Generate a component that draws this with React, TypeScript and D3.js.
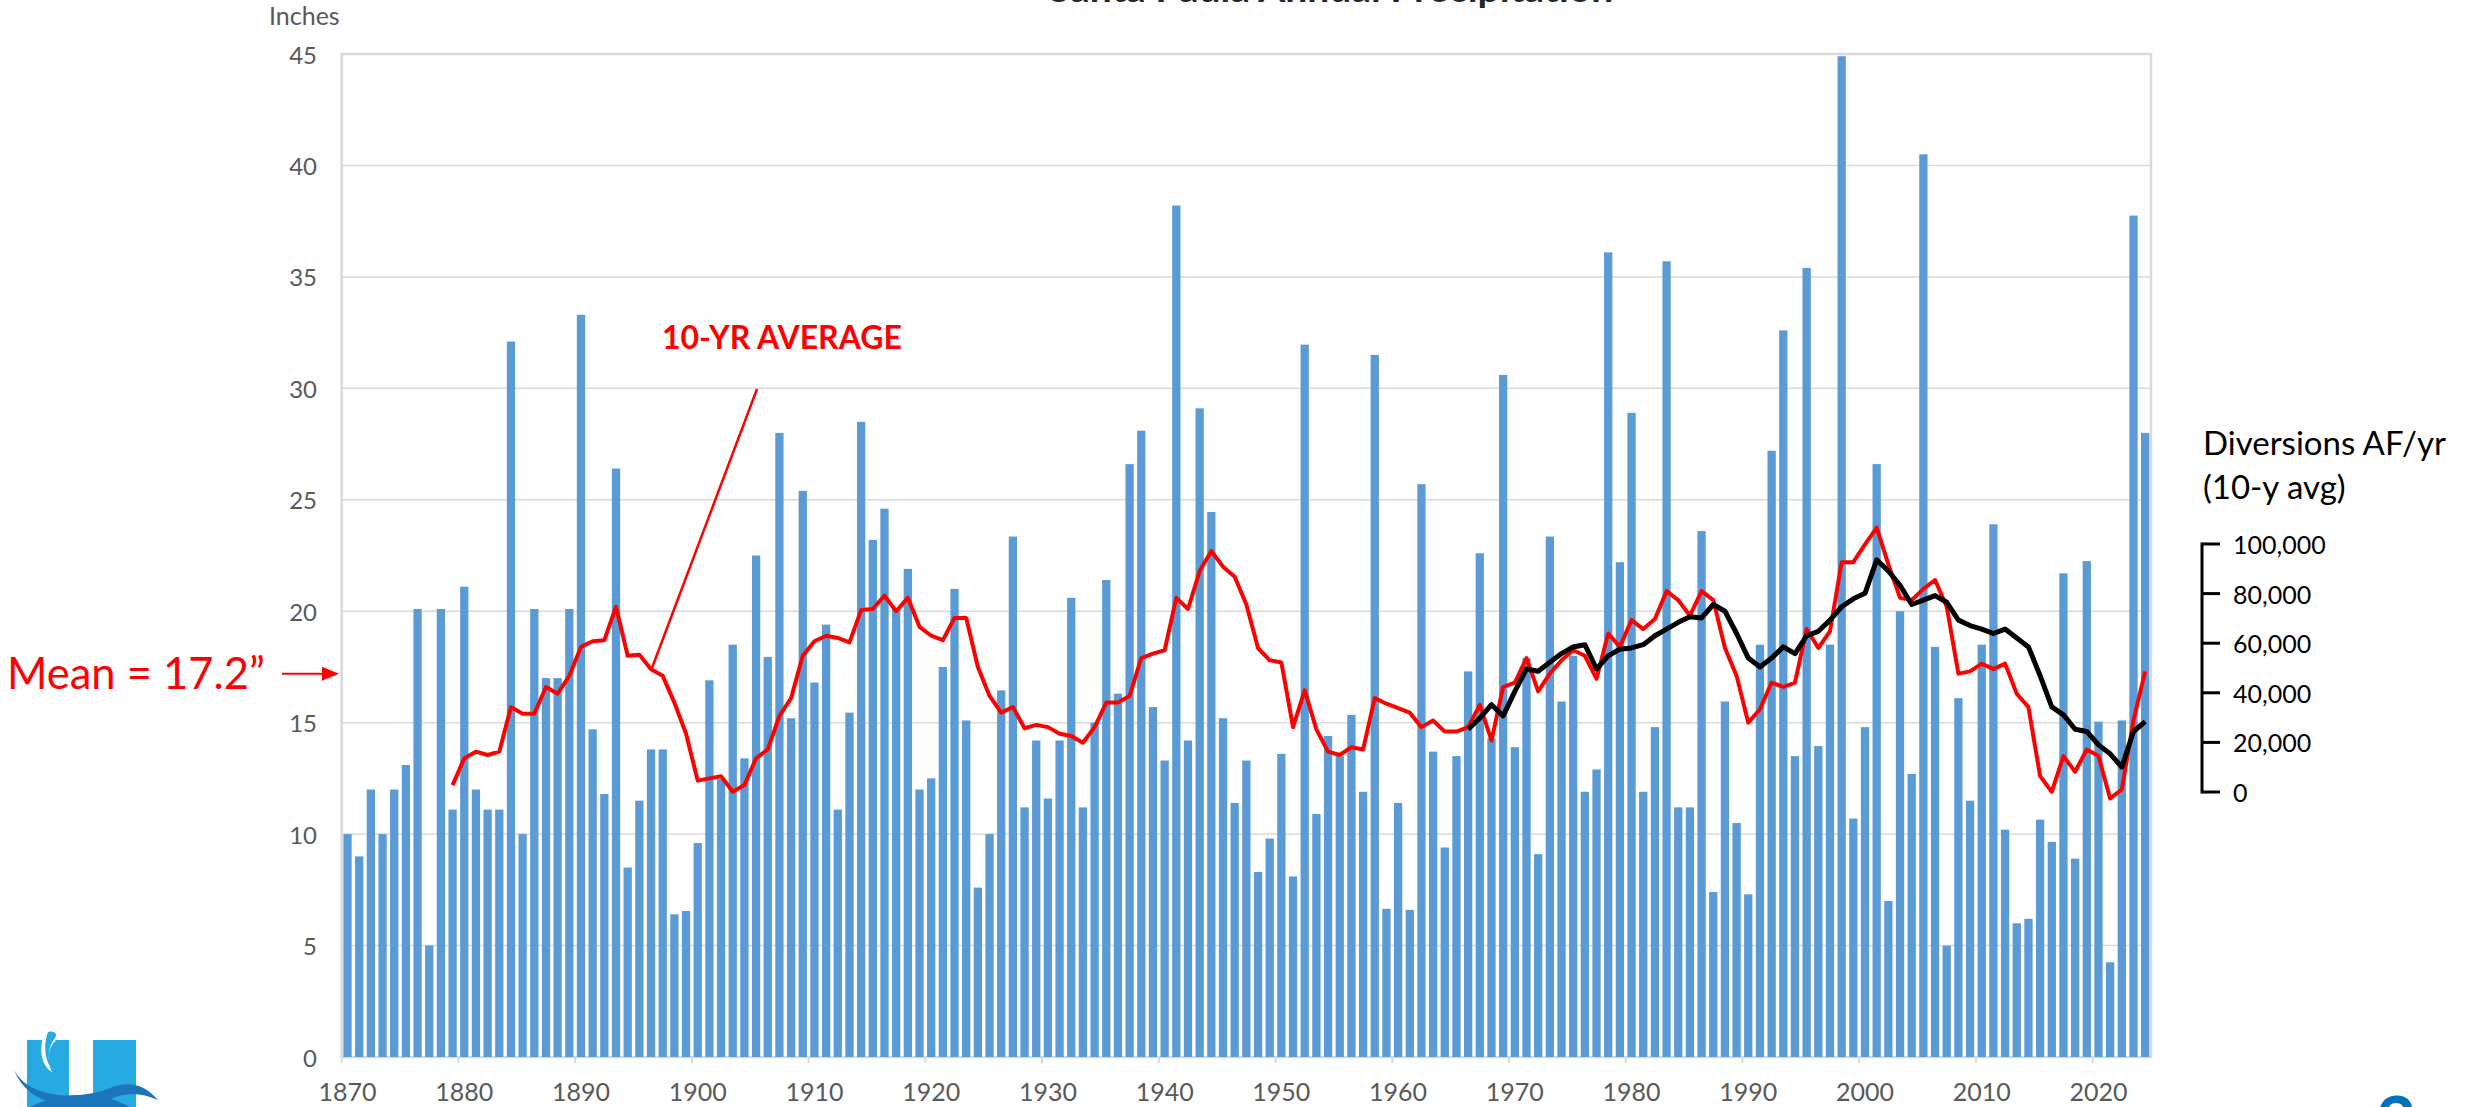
import React from "react";
import * as d3 from "d3";

const W = 2478;
const H = 1107;

const years: number[] = d3.range(1870, 2025);

// Annual precipitation (inches), 1870-2024
const precip: number[] = [
  10.0, 9.0, 12.0, 10.0, 12.0, 13.1, 20.1, 5.0, 20.1, 11.1,
  21.1, 12.0, 11.1, 11.1, 32.1, 10.0, 20.1, 17.0, 17.0, 20.1,
  33.3, 14.7, 11.8, 26.4, 8.5, 11.5, 13.8, 13.8, 6.4, 6.55,
  9.6, 16.9, 12.5, 18.5, 13.4, 22.5, 17.95, 28.0, 15.2, 25.4,
  16.8, 19.4, 11.1, 15.45, 28.5, 23.2, 24.6, 20.1, 21.9, 12.0,
  12.5, 17.5, 21.0, 15.1, 7.6, 10.0, 16.45, 23.35, 11.2, 14.2,
  11.6, 14.2, 20.6, 11.2, 15.0, 21.4, 16.3, 26.6, 28.1, 15.7,
  13.3, 38.2, 14.2, 29.1, 24.45, 15.2, 11.4, 13.3, 8.3, 9.8,
  13.6, 8.1, 31.96, 10.9, 14.4, 13.5, 15.35, 11.9, 31.5, 6.65,
  11.4, 6.6, 25.7, 13.7, 9.4, 13.5, 17.3, 22.6, 14.3, 30.6,
  13.9, 17.9, 9.1, 23.35, 15.95, 18.0, 11.9, 12.9, 36.1, 22.2,
  28.9, 11.9, 14.8, 35.7, 11.2, 11.2, 23.6, 7.4, 15.95, 10.5,
  7.3, 18.5, 27.2, 32.6, 13.5, 35.4, 13.95, 18.5, 44.9, 10.7,
  14.8, 26.6, 7.0, 20.0, 12.7, 40.5, 18.4, 5.0, 16.1, 11.5,
  18.5, 23.9, 10.2, 6.0, 6.2, 10.65, 9.65, 21.7, 8.9, 22.25,
  15.05, 4.25, 15.1, 37.75, 28.0,
];

// 10-year average (inches), 1879-2024
const avgStart = 1879;
const avg10: number[] = [
  12.2,
  13.4, 13.7, 13.55, 13.7, 15.7, 15.4, 15.4, 16.6, 16.3, 17.1,
  18.4, 18.65, 18.7, 20.2, 18.0, 18.05, 17.4, 17.1, 15.9, 14.5,
  12.4, 12.5, 12.6, 11.9, 12.2, 13.4, 13.8, 15.3, 16.1, 18.0,
  18.65, 18.9, 18.8, 18.6, 20.05, 20.1, 20.7, 20.0, 20.6, 19.3,
  18.9, 18.7, 19.7, 19.7, 17.5, 16.2, 15.45, 15.7, 14.75, 14.9,
  14.8, 14.5, 14.4, 14.1, 14.8, 15.9, 15.9, 16.2, 17.9, 18.1,
  18.25, 20.6, 20.1, 21.8, 22.7, 22.0, 21.55, 20.3, 18.35, 17.8,
  17.7, 14.8, 16.45, 14.7, 13.7, 13.55, 13.9, 13.8, 16.1, 15.85,
  15.65, 15.45, 14.8, 15.1, 14.6, 14.6, 14.8, 15.8, 14.2, 16.6,
  16.8, 17.9, 16.4, 17.2, 17.8, 18.25, 18.0, 16.97, 19.0, 18.4,
  19.6, 19.2, 19.65, 20.9, 20.5, 19.8, 20.9, 20.5, 18.35, 17.1,
  15.0, 15.6, 16.8, 16.6, 16.8, 19.2, 18.35, 19.1, 22.2, 22.2,
  23.0, 23.75, 22.1, 20.6, 20.5, 21.0, 21.4, 20.2, 17.2, 17.3,
  17.65, 17.4, 17.65, 16.3, 15.7, 12.6, 11.9, 13.5, 12.8, 13.8,
  13.5, 11.6, 12.0, 15.1, 17.3,
];

// Diversions AF/yr (10-y avg), 1966-2024
const divStart = 1966;
const diversions: number[] = [
  25300, 29800, 35200, 30700,
  40600, 49600, 48700, 52300, 55800, 58500, 59400, 49600, 54900, 57600,
  58100, 59400, 63000, 65700, 68400, 70700, 70200, 75600, 72900, 63900,
  54000, 50400, 54000, 58500, 55800, 63000, 64800, 69300, 74700, 77900,
  80100, 93600, 89100, 83300, 75600, 77400, 79200, 76500, 69300, 67100,
  65700, 63900, 65700, 62100, 58500, 46900, 34300, 31100, 25300, 24400,
  19000, 15400, 10000, 24400, 28400,
];

const yTicks: number[] = [0, 5, 10, 15, 20, 25, 30, 35, 40, 45];
const xTickYears: number[] = [1870, 1880, 1890, 1900, 1910, 1920, 1930, 1940, 1950, 1960, 1970, 1980, 1990, 2000, 2010, 2020];
const divTicks: number[] = [0, 20000, 40000, 60000, 80000, 100000];
const meanValue = 17.2;

const FONT = "Lato, 'Noto Sans', sans-serif";

export default function App() {
  const left = 341.7;
  const right = 2151;
  const yBottom = 1057;
  const yTop = 54;

  const x = d3.scaleBand<number>().domain(years).range([left, right]).paddingInner(0.29).paddingOuter(0.145);
  const y = d3.scaleLinear().domain([0, 45]).range([yBottom, yTop]);
  const y2 = d3.scaleLinear().domain([0, 100000]).range([792, 544]);
  const step = x.step();
  const cx = (yr: number) => (x(yr) as number) + x.bandwidth() / 2;

  const redLine = d3.line<number>().x((_, i) => cx(avgStart + i)).y((d) => y(d));
  const blackLine = d3.line<number>().x((_, i) => cx(divStart + i)).y((d) => y2(d));

  const fmt = d3.format(",");
  const legX = 2202;
  const meanY = y(meanValue);

  return (
    <svg width={W} height={H} style={{ position: "absolute", left: 0, top: 0, display: "block" }} fontFamily={FONT}>
      <rect x={0} y={0} width={W} height={H} fill="#fff" />
      {/* title (cut off at top) */}
      <text x={1331} y={1.5} textAnchor="middle" fontSize={39} fontWeight="bold" fill="#262626">
        Santa Paula Annual Precipitation
      </text>
      <text x={269} y={25} fontSize={25} fill="#595959">Inches</text>

      {/* gridlines */}
      {yTicks.map((t) => (
        <line key={"g" + t} x1={left} x2={right} y1={y(t)} y2={y(t)} stroke="#D9D9D9" strokeWidth={1.5} />
      ))}
      <rect x={left} y={yTop} width={right - left} height={yBottom - yTop} fill="none" stroke="#D9D9D9" strokeWidth={2.5} />
      {yTicks.map((t) => (
        <text key={"yl" + t} x={317} y={y(t)} textAnchor="end" dominantBaseline="central" fontSize={24} fill="#595959">
          {t}
        </text>
      ))}

      {/* bars */}
      {precip.map((v, i) => (
        <rect key={"b" + i} x={x(years[i])} y={y(v)} width={x.bandwidth()} height={yBottom - y(v)} fill="#5B9BD5" />
      ))}

      {/* x ticks and labels */}
      {xTickYears.map((yr) => {
        const tx = left + (yr - 1870) * step;
        return (
          <g key={"xt" + yr}>
            <line x1={tx} x2={tx} y1={yBottom} y2={yBottom + 6} stroke="#D9D9D9" strokeWidth={2} />
            <text x={cx(yr)} y={1101} textAnchor="middle" fontSize={25} fill="#595959">{yr}</text>
          </g>
        );
      })}

      {/* 10-yr average */}
      <path d={redLine(avg10) || ""} fill="none" stroke="#FF0000" strokeWidth={4} strokeLinejoin="round" />
      {/* diversions */}
      <path d={blackLine(diversions) || ""} fill="none" stroke="#000" strokeWidth={5} strokeLinejoin="round" />

      {/* 10-yr average annotation */}
      <text x={662} y={349} fontSize={32} fontWeight="bold" fill="#FF0000">10-YR AVERAGE</text>
      <line x1={757} y1={389} x2={652} y2={668} stroke="#FF0000" strokeWidth={2.5} />

      {/* mean annotation */}
      <text x={7} y={689} fontSize={43.5} fill="#FF0000">Mean = 17.2”</text>
      <line x1={282} x2={324} y1={meanY} y2={meanY} stroke="#FF0000" strokeWidth={2} />
      <polygon points={`${322},${meanY - 7} ${339},${meanY} ${322},${meanY + 7}`} fill="#FF0000" />

      {/* diversions legend axis */}
      <text x={2203} y={455} fontSize={33} fill="#000">Diversions AF/yr</text>
      <text x={2203} y={499} fontSize={33} fill="#000">(10-y avg)</text>
      <line x1={legX} x2={legX} y1={y2(0) + 1.5} y2={y2(100000) - 1.5} stroke="#000" strokeWidth={3} />
      {divTicks.map((t) => (
        <g key={"dt" + t}>
          <line x1={legX} x2={legX + 18} y1={y2(t)} y2={y2(t)} stroke="#000" strokeWidth={3} />
          <text x={2233} y={y2(t)} dominantBaseline="central" fontSize={25} fill="#000">{fmt(t)}</text>
        </g>
      ))}

      {/* logo (bottom-left) */}
      <g>
        <rect x={27} y={1040} width={42} height={67} fill="#27AAE1" />
        <rect x={93} y={1040} width={43} height={67} fill="#27AAE1" />
        <path d="M44,1034 C50,1030 58,1034 56,1040 C48,1048 46,1060 52,1072 C42,1066 38,1050 44,1034 Z" fill="#fff" />
        <path d="M48,1032 C54,1030 58,1034 55,1038 C50,1044 47,1054 50,1066 C44,1058 44,1042 48,1032 Z" fill="#27AAE1" />
        <path d="M14,1070 C30,1100 80,1100 110,1088 C130,1080 145,1085 158,1100 C140,1092 125,1092 108,1100 C80,1110 30,1110 14,1070 Z" fill="#1B75BC" />
        <path d="M30,1107 C60,1092 100,1090 130,1107 Z" fill="#1B75BC" />
      </g>
      {/* page number (cut off) */}
      <text x={2396} y={1147} textAnchor="middle" fontSize={70} fontWeight="bold" fill="#0070C0">3</text>
    </svg>
  );
}
